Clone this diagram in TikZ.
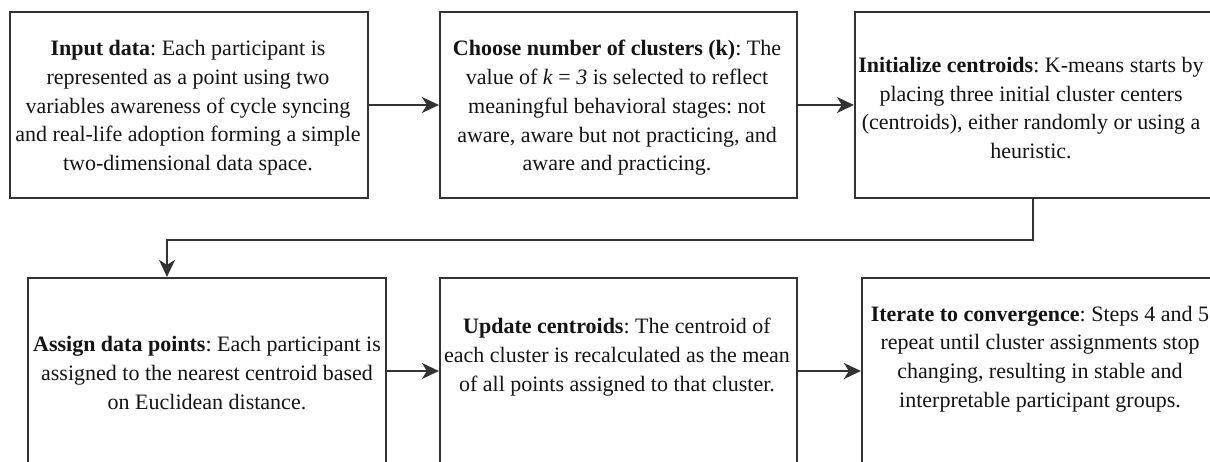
\documentclass[tikz,border=0pt]{standalone}
\usepackage{fontspec}
\setmainfont{Liberation Serif}
\usetikzlibrary{arrows.meta,calc}
\definecolor{boxline}{HTML}{333333}
\definecolor{inkcol}{HTML}{141414}
\frenchspacing
\begin{document}
\begin{tikzpicture}[x=1pt,y=-1pt,
  stepbox/.style={draw=boxline, line width=2.2pt, minimum width=358pt,
    minimum height=186pt, inner sep=0pt, fill=white},
  txt/.style={align=center, text=inkcol, inner sep=0pt,
    font=\fontsize{22}{28.7}\selectfont},
  arr/.style={draw=boxline, line width=2.2pt,
    -{Stealth[length=17pt,width=16pt,inset=5pt]}}]
\useasboundingbox (0,0) rectangle (1210,462);
\clip (0,0) rectangle (1210,462);

% step boxes
\node[stepbox] (b1) at (189,105) {};
\node[stepbox, minimum width=357pt] (b2) at (618.5,105) {};
\node[stepbox, minimum width=356pt] (b3) at (1033,105) {};
\node[stepbox] (b4) at (207,371) {};
\node[stepbox, minimum width=357pt] (b5) at (618.5,371) {};
\node[stepbox, minimum width=356pt] (b6) at (1040,371) {};

% step descriptions
\node[txt] (t1) at (188,108) {\textbf{Input data}: Each participant is\\
  represented as a point using two\\
  variables awareness of cycle syncing\\
  and real-life adoption forming a simple\\
  two-dimensional data space.};
\node[txt] (t2) at (617,108) {\textbf{Choose number of clusters (k)}: The\\
  value of \textit{k} = \textit{3} is selected to reflect\\
  meaningful behavioral stages: not\\
  aware, aware but not practicing, and\\
  aware and practicing.};
\node[txt] (t3) at (1031,108) {\textbf{Initialize centroids}: K-means starts by\\
  placing three initial cluster centers\\
  (centroids), either randomly or using a\\
  heuristic.};
\node[txt] (t4) at (207,373) {\textbf{Assign data points}: Each participant is\\
  assigned to the nearest centroid based\\
  on Euclidean distance.};
\node[txt] (t5) at (617,357) {\textbf{Update centroids}: The centroid of\\
  each cluster is recalculated as the mean\\
  of all points assigned to that cluster.};
\node[txt] (t6) at (1040,359) {\textbf{Iterate to convergence}: Steps 4 and 5\\
  repeat until cluster assignments stop\\
  changing, resulting in stable and\\
  interpretable participant groups.};

% connectors
\draw[arr] (b1) -- (b2);
\draw[arr] (b2) -- (b3);
\coordinate (turn) at (167,240);
\draw[arr] (b3.south) |- (turn) -- (turn |- b4.north);
\draw[arr] (b4) -- (b5);
\draw[arr] (b5) -- (b6);
\end{tikzpicture}
\end{document}
